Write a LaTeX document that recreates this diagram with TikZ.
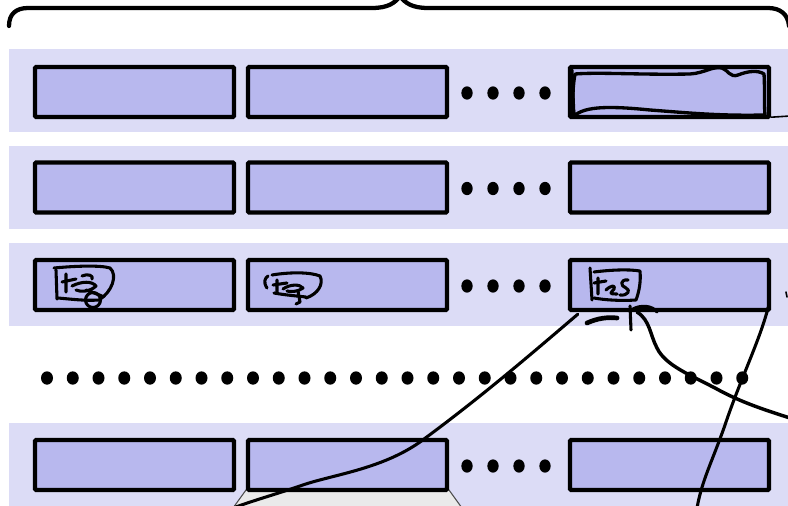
\documentclass[tikz,border=0pt]{standalone}
\usetikzlibrary{calc,shapes.geometric}
\definecolor{bandfill}{HTML}{DCDCF6}
\definecolor{cellfill}{HTML}{B8B8EE}
\definecolor{trayfill}{HTML}{EAEAEA}
\tikzset{
  band/.style={fill=bandfill, draw=none},
  cell/.style={draw, line width=3.3pt, fill=cellfill, minimum width=149.25pt,
               minimum height=37.5pt, inner sep=0pt, rounded corners=1pt},
  gapdot/.style={ellipse, fill=black, minimum width=8.5pt, minimum height=10pt, inner sep=0pt},
  bigdot/.style={ellipse, fill=black, minimum width=9pt, minimum height=10pt, inner sep=0pt},
  brace/.style={line width=3.2pt, line cap=round, line join=round},
  ink/.style={line width=2.3pt, line cap=round, line join=round},
  thinink/.style={line width=1.2pt, line cap=round, line join=round},
}
\begin{document}
\begin{tikzpicture}[x=0.75pt, y=-0.75pt]
\useasboundingbox (0,0) rectangle (788,506);
\clip (0,0) rectangle (788,506);
\fill[white] (0,0) rectangle (788,506);

% curly brace over the rows
\draw[brace] (9,26) .. controls (9,14) and (16,8) .. (28,8) -- (372,8)
  .. controls (388,8) and (395,3) .. (400,-4)
  .. controls (405,3) and (412,8) .. (428,8) -- (768,8)
  .. controls (780,8) and (788,14) .. (789,26);

% row bands
\path[band] (9,49) rectangle (790,132);
\path[band] (9,146) rectangle (790,229);
\path[band] (9,243) rectangle (790,326);
\path[band] (9,423) rectangle (790,510);

% tray below the second cell of the last row
\filldraw[fill=trayfill, draw=black!70, line width=0.8pt]
  (246,490) -- (233,508) -- (462,508) -- (449,490) -- cycle;

% cells
\foreach \r/\y in {1/92, 2/187.5, 3/285, 5/465} {
  \node[cell] (r\r c1) at (134.5,\y) {};
  \node[cell] (r\r c2) at (347.5,\y) {};
  \node[cell] (r\r c3) at (669.5,\y) {};
  \foreach \k/\x in {1/467, 2/493, 3/519, 4/545}
    \node[gapdot] (g\r-\k) at (\x,\y+1) {};
}

% elided rows
\foreach \k in {0,...,27}
  \node[bigdot] (v\k) at (47+25.75*\k,378) {};

% hand-drawn outline inside the last cell of the first row
\draw[ink, line width=2.5pt] (575,74) .. controls (600,72) and (640,75) .. (690,74)
  .. controls (705,73) and (712,66) .. (722,68)
  .. controls (728,70) and (730,78) .. (738,75)
  .. controls (748,71) and (758,70) .. (764,74)
  .. controls (765,90) and (764,105) .. (765,115)
  .. controls (720,116) and (690,113) .. (650,110)
  .. controls (610,106) and (585,106) .. (574,116)
  .. controls (572,100) and (573,85) .. (575,74);
\draw[ink] (572,70) -- (574,117);
\draw[thinink] (r1c3.south east) ++(0,-2) -- (790,116);

% scribbled notes in the third row
\draw[ink] (56,270) -- (57,299);
\draw[ink] (54,268) .. controls (75,266) and (100,265) .. (110,268)
  .. controls (118,275) and (112,292) .. (99,300)
  .. controls (85,301) and (70,299) .. (58,298);
\draw[ink] (66,274) -- (66,292) (62,282) -- (76,279)
  (72,286) .. controls (82,281) and (92,281) .. (96,286)
  .. controls (90,292) and (80,292) .. (76,290)
  (82,276) .. controls (88,273) and (94,276) .. (92,279)
  (86,290) -- (102,296);
\draw[ink] (93,300) circle[radius=7.5];

\draw[ink] (267,288) .. controls (263,282) and (265,278) .. (268,276);
\draw[ink] (272,275) .. controls (290,272) and (310,272) .. (320,276)
  .. controls (324,284) and (318,294) .. (306,298);
\draw[ink] (274,293) .. controls (285,295) and (297,296) .. (306,297);
\draw[ink] (277,280) -- (277,292) (273,285) -- (287,283)
  (283,289) .. controls (290,284) and (300,284) .. (303,288)
  .. controls (298,292) and (290,292) .. (287,291)
  (298,291) -- (300,302) -- (296,304);

\draw[ink] (590,268) -- (592,300);
\draw[ink] (594,272) .. controls (610,270) and (628,269) .. (640,271)
  .. controls (641,282) and (639,292) .. (636,300)
  .. controls (620,301) and (605,300) .. (594,298);
\draw[ink] (598,278) -- (598,294) (594,283) -- (606,281)
  (606,290) .. controls (611,285) and (616,285) .. (614,289)
  .. controls (611,293) and (608,294) .. (617,294)
  (628,280) .. controls (620,279) and (620,286) .. (626,288)
  .. controls (631,290) and (628,296) .. (620,295);

% strokes below the scribbled cell
\draw[line width=3.5pt, line cap=round] (587,323) .. controls (598,318) and (608,317) .. (617,318);
\draw[ink] (630,306) -- (631,330);
\draw[ink] (633,309) .. controls (640,305) and (652,305) .. (657,312);

% long connectors leaving the scribbled cell
\coordinate (t1) at (233,508);
\coordinate (t2) at (790,418);
\coordinate (t3) at (697,508);
\draw[ink] (r3c3.south west) ++(10,2)
  .. controls (530,355) and (480,398) .. (420,442)
  .. controls (380,470) and (330,475) .. (300,486)
  .. controls (270,496) and (255,500) .. (t1);
\draw[ink, line width=2.6pt] (637,312) .. controls (650,320) and (650,335) .. (657,348)
  .. controls (665,365) and (690,375) .. (715,388)
  .. controls (740,402) and (765,410) .. (t2);
\draw[ink] (r3c3.south east) ++(-3,-5)
  .. controls (760,340) and (740,380) .. (725,425)
  .. controls (712,462) and (702,480) .. (t3);
\draw[thinink] (786,292) -- (787,297);
\end{tikzpicture}
\end{document}
